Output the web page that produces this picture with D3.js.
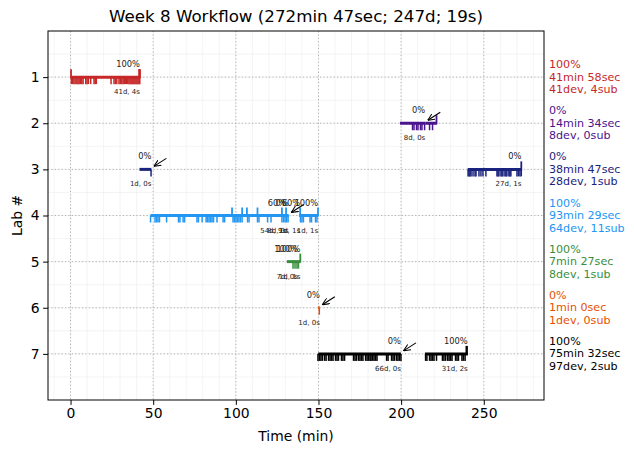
<!DOCTYPE html>
<html>
<head>
<meta charset="utf-8">
<script src="https://cdn.jsdelivr.net/npm/d3@7"></script>
<style>
  body { margin: 0; background: #fff; }
  svg { font-family: 'DejaVu Sans', sans-serif; }
</style>
</head>
<body>
<div id="chart"></div>
<script>
const title = 'Week 8 Workflow (272min 47sec; 247d; 19s)';
const labIds = [1, 2, 3, 4, 5, 6, 7];
const labColors = ['#c62828', '#4a148c', '#1a237e', '#2196f3', '#388e3c', '#e65100', '#000000'];
const labPct = ['100%', '0%', '0%', '100%', '100%', '0%', '100%'];
const labTime = ['41min 58sec', '14min 34sec', '38min 47sec', '93min 29sec', '7min 27sec', '1min 0sec', '75min 32sec'];
const labCounts = ['41dev, 4sub', '8dev, 0sub', '28dev, 1sub', '64dev, 11sub', '8dev, 1sub', '1dev, 0sub', '97dev, 2sub'];

// work sessions, one entry per segment
const segLab = [1, 2, 2, 3, 3, 4, 4, 4, 4, 5, 5, 6, 7, 7];
const segStart = [0, 199.3, 214.6, 41.7, 240.3, 48.4, 130.4, 138.3, 138.9, 130.9, 137.6, 149.8, 149.8, 214.4];
const segEnd = [41.97, 214.6, 221.6, 48.9, 272.8, 130.4, 132.0, 138.9, 149.8, 137.6, 139.0, 150.8, 199.9, 240.3];
const segPct = ['100%', '0%', '', '0%', '0%', '60%', '0%', '60%', '100%', '100%', '100%', '0%', '0%', '100%'];
const segNote = ['41d, 4s', '8d, 0s', '', '1d, 0s', '27d, 1s', '54d, 9s', '8d, 0s', '1d, 1s', '1d, 1s', '7d, 0s', '1d, 1s', '1d, 0s', '66d, 0s', '31d, 2s'];
const segArrow = [false, true, false, true, false, false, true, false, false, false, false, true, true, false];

// dev events (minutes) per lab
const devTimes = [
  [0.5, 1.2, 2.0, 2.8, 3.8, 4.5, 5.2, 6.0, 6.8, 7.6, 9.2, 10.0, 10.8, 12.2, 14.2, 15.0, 15.6, 24.5, 26.3, 27.2, 28.0,
   29.3, 30.1, 31.0, 31.8, 32.5, 33.2, 33.9, 34.6, 35.3, 36.0, 36.6, 37.2, 37.8, 38.4, 39.0, 39.6, 40.2, 40.8, 41.4, 41.9],
  [206.9, 207.8, 209.3, 210.2, 211.7, 212.6, 214.2, 217.2, 219.0],
  [48.7, 240.5, 241.1, 241.7, 242.3, 243.5, 244.7, 245.3, 247.1, 248.3, 249.5, 251.3, 258.0, 258.6, 259.2, 260.4,
   261.0, 261.6, 262.8, 263.4, 264.0, 265.2, 265.8, 266.4, 270.1, 271.0, 271.9, 272.7],
  [48.4, 51.1, 52.0, 52.9, 53.8, 58.1, 65.3, 66.2, 68.1, 69.0, 76.5, 77.4, 79.6, 82.0, 82.9, 83.8, 84.7, 85.6, 86.5,
   88.6, 92.3, 93.2, 98.3, 99.2, 100.1, 101.0, 101.9, 102.8, 103.8, 107.1, 108.0, 113.1, 114.0, 119.2, 121.3, 127.9,
   128.9, 129.8, 130.7, 131.6, 139.1, 140.0, 140.9, 144.9, 145.8, 148.2, 149.1],
  [134.6, 135.8, 137.0, 137.9],
  [150.5],
  [149.7, 150.6, 151.5, 152.4, 153.7, 154.6, 156.1, 157.0, 157.9, 158.8, 160.3, 161.2, 162.1, 163.9, 164.8, 165.8,
   171.2, 172.1, 173.0, 174.2, 175.1, 176.0, 176.9, 178.5, 179.4, 180.3, 181.2, 181.8, 182.7, 183.6, 184.5, 185.4,
   191.2, 192.1, 194.2, 195.1, 196.0, 197.2, 198.1, 199.0, 199.9,
   214.8, 215.6, 217.2, 218.1, 219.0, 219.9, 221.4, 225.0, 225.9, 226.9, 228.1, 229.0, 229.9, 230.8, 232.9, 233.8,
   234.7, 236.8, 237.7, 238.7]
];

// submissions (minutes) per lab
const subTimes = [
  [0.3, 41.5, 41.8, 41.97],
  [221.4],
  [272.7],
  [97.7, 103.8, 106.7, 113.1, 127.9, 130.4, 138.9, 149.7],
  [139.0],
  [],
  [239.5, 239.8]
];

const xMajor = [0, 50, 100, 150, 200, 250];

const width = 634, height = 453;
const margin = { top: 31, right: 90, bottom: 53, left: 48 };

const x = d3.scaleLinear()
  .domain([-13.64, 286.44])
  .range([margin.left, width - margin.right]);
const y = d3.scaleLinear()
  .domain([0, 8])
  .range([margin.top, height - margin.bottom]);

const svg = d3.select('#chart').append('svg')
  .attr('width', width)
  .attr('height', height);

svg.append('defs').append('marker')
  .attr('id', 'arrow')
  .attr('viewBox', '0 -5 10 10')
  .attr('refX', 10)
  .attr('markerWidth', 7)
  .attr('markerHeight', 7)
  .attr('markerUnits', 'userSpaceOnUse')
  .attr('orient', 'auto')
  .append('path')
  .attr('d', 'M0,-4.5L10,0L0,4.5')
  .attr('fill', 'none')
  .attr('stroke', '#000')
  .attr('stroke-width', 1.5);

// minor grid
const grid = svg.append('g');
grid.selectAll('line.minx')
  .data(d3.range(-10, 290, 10))
  .join('line')
  .attr('x1', d => x(d)).attr('x2', d => x(d))
  .attr('y1', margin.top).attr('y2', height - margin.bottom)
  .attr('stroke', '#ececec').attr('stroke-width', 0.6);
grid.selectAll('line.miny')
  .data(d3.range(0.5, 8, 0.5))
  .join('line')
  .attr('x1', margin.left).attr('x2', width - margin.right)
  .attr('y1', d => y(d)).attr('y2', d => y(d))
  .attr('stroke', '#ececec').attr('stroke-width', 0.6);

// major grid
grid.selectAll('line.majx')
  .data(xMajor)
  .join('line')
  .attr('x1', d => x(d)).attr('x2', d => x(d))
  .attr('y1', margin.top).attr('y2', height - margin.bottom)
  .attr('stroke', '#b0b0b0').attr('stroke-width', 1).attr('stroke-dasharray', '1.2,2.2');
grid.selectAll('line.majy')
  .data(labIds)
  .join('line')
  .attr('x1', margin.left).attr('x2', width - margin.right)
  .attr('y1', d => y(d)).attr('y2', d => y(d))
  .attr('stroke', '#b0b0b0').attr('stroke-width', 1).attr('stroke-dasharray', '1.2,2.2');

const segments = segLab.map((lab, i) => ({
  lab, start: segStart[i], end: segEnd[i], pct: segPct[i], note: segNote[i], arrow: segArrow[i]
}));
const colorOf = lab => labColors[lab - 1];

// session lines
svg.append('g').selectAll('line')
  .data(segments)
  .join('line')
  .attr('x1', d => x(d.start)).attr('x2', d => x(d.end))
  .attr('y1', d => y(d.lab)).attr('y2', d => y(d.lab))
  .attr('stroke', d => colorOf(d.lab))
  .attr('stroke-width', 3);

// dev ticks (down) and submission ticks (up)
const devFlat = devTimes.flatMap((ts, i) => ts.map(t => ({ lab: labIds[i], t })));
const subFlat = subTimes.flatMap((ts, i) => ts.map(t => ({ lab: labIds[i], t })));

svg.append('g').selectAll('line')
  .data(devFlat)
  .join('line')
  .attr('x1', d => x(d.t)).attr('x2', d => x(d.t))
  .attr('y1', d => y(d.lab)).attr('y2', d => y(d.lab) + 7)
  .attr('stroke', d => colorOf(d.lab))
  .attr('stroke-width', 1.5);

svg.append('g').selectAll('line')
  .data(subFlat)
  .join('line')
  .attr('x1', d => x(d.t)).attr('x2', d => x(d.t))
  .attr('y1', d => y(d.lab) + 1).attr('y2', d => y(d.lab) - 8)
  .attr('stroke', d => colorOf(d.lab))
  .attr('stroke-width', 1.8);

// segment annotations
const notes = svg.append('g').attr('fill', '#222').attr('text-anchor', 'end');
notes.selectAll('text.pct')
  .data(segments.filter(d => d.pct))
  .join('text')
  .attr('x', d => x(d.end))
  .attr('y', d => y(d.lab) - 10)
  .attr('font-size', '8.3px')
  .text(d => d.pct);
notes.selectAll('text.note')
  .data(segments.filter(d => d.note))
  .join('text')
  .attr('x', d => x(d.end))
  .attr('y', d => y(d.lab) + 17)
  .attr('font-size', '7px')
  .text(d => d.note);

svg.append('g').selectAll('line')
  .data(segments.filter(d => d.arrow))
  .join('line')
  .attr('x1', d => x(d.end) + 15).attr('y1', d => y(d.lab) - 11)
  .attr('x2', d => x(d.end) + 2.5).attr('y2', d => y(d.lab) - 3)
  .attr('stroke', '#000').attr('stroke-width', 1.1)
  .attr('marker-end', 'url(#arrow)');

// axes
const xAxis = svg.append('g')
  .attr('transform', `translate(0,${height - margin.bottom})`)
  .call(d3.axisBottom(x).tickValues(xMajor).tickSize(4.9).tickPadding(3.5));
const yAxis = svg.append('g')
  .attr('transform', `translate(${margin.left},0)`)
  .call(d3.axisLeft(y).tickValues(labIds).tickSize(4.9).tickPadding(3.5));
[xAxis, yAxis].forEach(a => {
  a.select('.domain').remove();
  a.selectAll('text').attr('font-size', '13.9px').attr('fill', '#000')
    .attr('font-family', "'DejaVu Sans', sans-serif");
  a.selectAll('line').attr('stroke', '#000').attr('stroke-width', 1);
});

svg.append('rect')
  .attr('x', margin.left).attr('y', margin.top)
  .attr('width', width - margin.left - margin.right)
  .attr('height', height - margin.top - margin.bottom)
  .attr('fill', 'none').attr('stroke', '#000').attr('stroke-width', 1);

// right side summary
const legend = svg.append('g').attr('font-size', '11.1px');
labIds.forEach((lab, i) => {
  const lines = [labPct[i], labTime[i], labCounts[i]];
  const offs = [-9, 3.5, 16];
  lines.forEach((txt, j) => {
    legend.append('text')
      .attr('x', width - margin.right + 5)
      .attr('y', y(lab) + offs[j])
      .attr('fill', labColors[i])
      .text(txt);
  });
});

svg.append('text')
  .attr('x', (margin.left + width - margin.right) / 2)
  .attr('y', 22)
  .attr('text-anchor', 'middle')
  .attr('font-size', '16.7px')
  .text(title);

svg.append('text')
  .attr('x', (margin.left + width - margin.right) / 2)
  .attr('y', 441)
  .attr('text-anchor', 'middle')
  .attr('font-size', '13.9px')
  .text('Time (min)');

svg.append('text')
  .attr('transform', `translate(22,${(margin.top + height - margin.bottom) / 2}) rotate(-90)`)
  .attr('text-anchor', 'middle')
  .attr('font-size', '13.9px')
  .text('Lab #');
</script>
</body>
</html>
